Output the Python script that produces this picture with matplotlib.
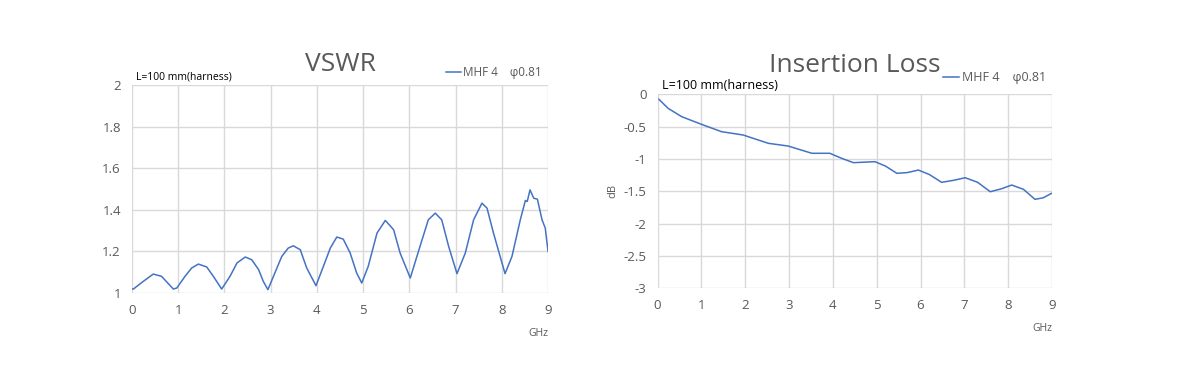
import matplotlib
matplotlib.use('Agg')
import matplotlib.pyplot as plt

plt.rcParams['font.family'] = ['Open Sans', 'DejaVu Sans']

# VSWR curve (GHz, ratio)
vswr_freq = [0.0, 0.03, 0.245, 0.46, 0.64, 0.74, 0.895, 0.97, 1.147, 1.29, 1.435, 1.617, 1.76, 1.94,
             2.12, 2.27, 2.45, 2.59, 2.74, 2.84, 2.94, 3.06, 3.24, 3.38, 3.49, 3.64, 3.78, 3.98,
             4.14, 4.29, 4.43, 4.57, 4.72, 4.86, 4.97, 5.11, 5.30, 5.48, 5.66, 5.80, 6.02,
             6.23, 6.41, 6.56, 6.70, 6.85, 7.03, 7.21, 7.39, 7.57, 7.68, 7.82, 8.07,
             8.22, 8.40, 8.51, 8.55, 8.61, 8.69, 8.77, 8.87, 8.94, 9.0]
vswr_vals = [1.02, 1.019, 1.056, 1.091, 1.080, 1.056, 1.019, 1.024, 1.080, 1.12, 1.139, 1.125, 1.080, 1.019,
             1.080, 1.144, 1.173, 1.16, 1.112, 1.056, 1.016, 1.080, 1.176, 1.216, 1.227, 1.208, 1.12, 1.035,
             1.128, 1.216, 1.269, 1.259, 1.192, 1.096, 1.048, 1.128, 1.288, 1.349, 1.304, 1.192, 1.072,
             1.224, 1.352, 1.384, 1.352, 1.224, 1.093, 1.192, 1.352, 1.432, 1.408, 1.288, 1.093,
             1.176, 1.352, 1.445, 1.44, 1.496, 1.456, 1.451, 1.352, 1.312, 1.2]

# Insertion loss curve (GHz, dB)
il_freq = [0.03, 0.24, 0.55, 1.0, 1.46, 1.95, 2.53, 2.98, 3.52, 3.93, 4.2, 4.47, 4.96,
           5.2, 5.46, 5.7, 5.95, 6.2, 6.48, 6.75, 7.02, 7.3, 7.59, 7.85, 8.08, 8.35,
           8.61, 8.8, 8.99]
il_vals = [-0.077, -0.217, -0.346, -0.464, -0.578, -0.629, -0.758, -0.80, -0.912, -0.912, -0.99, -1.057, -1.042,
           -1.11, -1.222, -1.21, -1.171, -1.24, -1.361, -1.33, -1.29, -1.36, -1.506, -1.46, -1.403, -1.47,
           -1.624, -1.6, -1.531]

x_ticks = list(range(0, 10))
vswr_ticks = [1, 1.2, 1.4, 1.6, 1.8, 2]
vswr_tick_labels = ['1', '1.2', '1.4', '1.6', '1.8', '2']
il_ticks = [0, -0.5, -1, -1.5, -2, -2.5, -3]
il_tick_labels = ['0', '-0.5', '-1', '-1.5', '-2', '-2.5', '-3']

line_color = '#4472C4'
grid_color = '#D9D9D9'
text_color = '#595959'

fig = plt.figure(figsize=(12, 3.92), dpi=100)
ax1 = fig.add_axes([0.11, 0.2526, 0.3467, 0.5304])
ax2 = fig.add_axes([0.548, 0.2645, 0.3287, 0.4949])


def style_axis(ax, yticks, ylabels, ylim):
    ax.set_xlim(0, 9)
    ax.set_ylim(*ylim)
    ax.set_xticks(x_ticks)
    ax.set_yticks(yticks)
    ax.set_yticklabels(ylabels)
    ax.grid(True, color=grid_color, linewidth=1)
    ax.set_axisbelow(True)
    for s in ax.spines.values():
        s.set_visible(False)
    ax.tick_params(length=0, colors=text_color, labelsize=9.5, pad=8)


# VSWR
ax1.plot(vswr_freq, vswr_vals, color=line_color, linewidth=1.1, label='MHF 4    φ0.81')
style_axis(ax1, vswr_ticks, vswr_tick_labels, (1, 2))
ax1.set_title('VSWR', fontsize=19, color=text_color, pad=10)
ax1.text(0.01, 1.01, 'L=100 mm(harness)', transform=ax1.transAxes, fontsize=7.5,
         color='black', va='bottom', ha='left')
ax1.text(1.0, -0.17, 'GHz', transform=ax1.transAxes, fontsize=7.5,
         color=text_color, va='top', ha='right')
ax1.legend(loc='lower right', bbox_to_anchor=(1.0, 1.0), frameon=False,
           fontsize=8.5, handlelength=1.3, handletextpad=0.2, borderaxespad=0.1,
           labelcolor=text_color)

# Insertion loss
ax2.plot(il_freq, il_vals, color=line_color, linewidth=1.1, label='MHF 4    φ0.81')
style_axis(ax2, il_ticks, il_tick_labels, (-3, 0))
ax2.set_title('Insertion Loss', fontsize=19, color=text_color, pad=16)
ax2.set_ylabel('dB', fontsize=8, color=text_color, labelpad=4)
ax2.text(0.01, 1.01, 'L=100 mm(harness)', transform=ax2.transAxes, fontsize=9,
         color='black', va='bottom', ha='left')
ax2.text(1.0, -0.18, 'GHz', transform=ax2.transAxes, fontsize=7.5,
         color=text_color, va='top', ha='right')
ax2.legend(loc='lower right', bbox_to_anchor=(1.0, 1.02), frameon=False,
           fontsize=9, handlelength=1.3, handletextpad=0.2, borderaxespad=0.1,
           labelcolor=text_color)

fig.savefig('out.png', dpi=100, facecolor='white')
